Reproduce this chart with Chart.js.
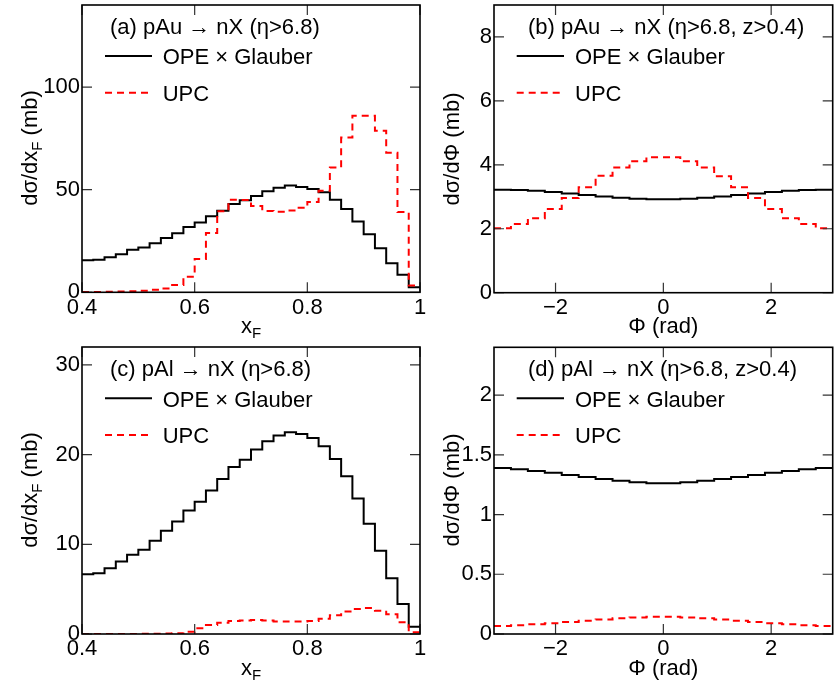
<!DOCTYPE html>
<html><head><meta charset="utf-8">
<script src="https://cdn.jsdelivr.net/npm/chart.js@4.4.1/dist/chart.umd.min.js"></script>
<style>
html,body{margin:0;padding:0;background:#fff;}
#wrap{position:relative;width:840px;height:686px;overflow:hidden;}
canvas{position:absolute;}
</style></head><body><div id="wrap">
<canvas id="ca" width="430" height="343" style="left:0;top:0"></canvas>
<canvas id="cb" width="420" height="343" style="left:420px;top:0"></canvas>
<canvas id="cc" width="430" height="343" style="left:0;top:343px"></canvas>
<canvas id="cd" width="420" height="343" style="left:420px;top:343px"></canvas>
</div>
<script>
// ---------- data ----------
const xfEdges = [0.40,0.42,0.44,0.46,0.48,0.50,0.52,0.54,0.56,0.58,0.60,0.62,0.64,0.66,0.68,0.70,0.72,0.74,0.76,0.78,0.80,0.82,0.84,0.86,0.88,0.90,0.92,0.94,0.96,0.98,1.00];
const phiEdges = [-3.1416,-2.8274,-2.5133,-2.1991,-1.8850,-1.5708,-1.2566,-0.9425,-0.6283,-0.3142,0,0.3142,0.6283,0.9425,1.2566,1.5708,1.8850,2.1991,2.5133,2.8274,3.1416];

const opeAuXF = [15.6,15.9,17.1,18.6,20.7,21.8,23.9,26.4,28.8,31.8,34.0,37.0,39.7,43.0,44.8,46.9,49.3,51.0,52.0,51.3,50.3,48.7,45.1,40.6,34.5,28.3,21.5,14.2,8.5,2.4];
const upcAuXF = [0.2,0.2,0.3,0.4,0.5,0.8,1.2,1.9,3.6,7.6,16.2,28.9,39.5,45.1,45.0,42.0,39.6,39.2,39.8,41.2,44.0,49.5,60.8,75.4,86.0,86.0,78.7,68.0,39.1,3.3];

const opeAuPhi = [3.22,3.21,3.19,3.15,3.10,3.06,3.01,2.97,2.94,2.92,2.92,2.94,2.97,3.01,3.06,3.10,3.15,3.19,3.21,3.22];
const upcAuPhi = [2.02,2.15,2.33,2.62,2.96,3.30,3.66,3.92,4.11,4.24,4.24,4.11,3.92,3.64,3.30,2.96,2.62,2.33,2.15,2.02];

const opeAlXF = [6.67,6.78,7.34,8.08,8.83,9.39,10.39,11.51,12.55,13.78,14.75,16.01,17.28,18.62,19.44,20.56,21.49,22.12,22.49,22.30,21.86,20.93,19.52,17.58,15.12,12.29,9.27,6.22,3.35,0.82];
const upcAlXF = [0,0,0,0,0.01,0.02,0.04,0.05,0.07,0.26,0.63,1.0,1.26,1.45,1.5,1.55,1.5,1.4,1.38,1.38,1.45,1.7,2.1,2.5,2.8,2.9,2.6,2.2,1.3,0.2];

const opeAlPhi = [1.39,1.38,1.365,1.35,1.33,1.315,1.298,1.283,1.27,1.262,1.262,1.27,1.283,1.298,1.315,1.33,1.35,1.365,1.38,1.39];
const upcAlPhi = [0.067,0.074,0.081,0.089,0.100,0.111,0.122,0.131,0.139,0.144,0.144,0.139,0.131,0.122,0.111,0.100,0.089,0.081,0.074,0.067];

const xfTicks = [0.4,0.6,0.8,1];
const phiTicks = [-2,0,2];
const yTicksA = [0,50,100];
const yTicksB = [0,2,4,6,8];
const yTicksC = [0,10,20,30];
const yTicksD = [0,0.5,1,1.5,2];

const seriesNames = ['OPE \u00d7 Glauber','UPC'];
const headers = ['(a) pAu \u2192 nX (\u03b7>6.8)','(b) pAu \u2192 nX (\u03b7>6.8, z>0.4)','(c) pAl \u2192 nX (\u03b7>6.8)','(d) pAl \u2192 nX (\u03b7>6.8, z>0.4)'];

// ---------- drawing ----------
const FONT = "'Liberation Sans', 'DejaVu Sans', Arial, sans-serif";
const FS = 22;
function f(sz){ return sz + 'px ' + FONT; }
function fmt(v){ return String(v).replace('-', '\u2212'); }
function toSteps(edges, vals){
  return edges.map((x,i)=>({x:x, y:vals[Math.min(i, vals.length-1)]}));
}
function drawParts(ctx, parts, x, y, center){
  let w = 0;
  parts.forEach(p=>{ ctx.font = f(p[1]); w += ctx.measureText(p[0]).width; });
  let cx = center ? x - w/2 : x;
  parts.forEach(p=>{ ctx.font = f(p[1]); ctx.fillText(p[0], cx, y + p[2]); cx += ctx.measureText(p[0]).width; });
}

const rootStyle = {
  id: 'rootStyle',
  afterDraw(chart, args, o){
    const ctx = chart.ctx, a = chart.chartArea;
    const xs = chart.scales.x, ys = chart.scales.y;
    ctx.save();
    ctx.strokeStyle = '#333'; ctx.lineWidth = 1.2;
    const L = 10;
    xs.ticks.forEach(t=>{
      const px = xs.getPixelForValue(t.value);
      ctx.beginPath();
      ctx.moveTo(px, a.bottom); ctx.lineTo(px, a.bottom - L);
      ctx.moveTo(px, a.top); ctx.lineTo(px, a.top + L);
      ctx.stroke();
    });
    ys.ticks.forEach(t=>{
      const py = ys.getPixelForValue(t.value);
      ctx.beginPath();
      ctx.moveTo(a.left, py); ctx.lineTo(a.left + L, py);
      ctx.moveTo(a.right, py); ctx.lineTo(a.right - L, py);
      ctx.stroke();
    });
    ctx.strokeStyle = '#000'; ctx.lineWidth = 1.6;
    ctx.strokeRect(a.left, a.top, a.right - a.left, a.bottom - a.top);
    ctx.fillStyle = '#000'; ctx.textAlign = 'left'; ctx.textBaseline = 'alphabetic';
    ctx.font = f(FS);
    ctx.fillText(o.header, o.hx, o.hy);
    const ds = chart.data.datasets;
    o.ly.forEach((ly, i)=>{
      ctx.beginPath();
      ctx.strokeStyle = ds[i].borderColor; ctx.lineWidth = 2;
      ctx.setLineDash(ds[i].borderDash || []);
      ctx.moveTo(o.lx0, ly); ctx.lineTo(o.lx1, ly); ctx.stroke();
      ctx.setLineDash([]);
      ctx.fillStyle = '#000'; ctx.font = f(FS);
      ctx.fillText(ds[i].label, o.tx, o.ty[i]);
    });
    ctx.fillStyle = '#000';
    drawParts(ctx, o.xTitle, o.xtx, o.xty, true);
    ctx.save();
    ctx.translate(o.ytx, o.yty);
    ctx.rotate(-Math.PI/2);
    drawParts(ctx, o.yTitle, 0, 0, true);
    ctx.restore();
    ctx.restore();
  }
};

function makeChart(id, s){
  return new Chart(document.getElementById(id), {
    type: 'line',
    data: { datasets: [
      {label: seriesNames[0], data: toSteps(s.edges, s.black), borderColor:'#000000', borderWidth:2,
       stepped:true, pointRadius:0, fill:false, order:1, borderJoinStyle:'miter'},
      {label: seriesNames[1], data: toSteps(s.edges, s.red), borderColor:'#ff0000', borderWidth:2,
       borderDash:[7,5], stepped:true, pointRadius:0, fill:false, order:0, borderJoinStyle:'miter'}
    ]},
    options: {
      responsive:false, maintainAspectRatio:false, animation:false, devicePixelRatio:1, events:[],
      layout:{autoPadding:false, padding:{top:s.padTop, right:s.padRight, left:0, bottom:0}},
      plugins:{legend:{display:false}, tooltip:{enabled:false}, rootStyle:s.deco},
      scales:{
        x:{type:'linear', min:s.xMin, max:s.xMax, offset:false,
           grid:{display:false, drawTicks:false}, border:{display:false},
           afterBuildTicks: sc=>{ sc.ticks = s.xTicks.map(v=>({value:v})); },
           afterFit: sc=>{ sc.height = s.xAxisH; sc.paddingLeft = 0; sc.paddingRight = 0; },
           ticks:{autoSkip:false, maxRotation:0, minRotation:0, padding:2, color:'#000',
                  font:{family:FONT, size:FS}, callback:v=>fmt(v)}},
        y:{type:'linear', min:s.yMin, max:s.yMax,
           grid:{display:false, drawTicks:false}, border:{display:false},
           afterBuildTicks: sc=>{ sc.ticks = s.yTicks.map(v=>({value:v})); },
           afterFit: sc=>{ sc.width = s.yAxisW; sc.paddingTop = 0; sc.paddingBottom = 0; },
           ticks:{autoSkip:false, padding:2, color:'#000', font:{family:FONT, size:FS}, callback:v=>fmt(v)}}
      }
    },
    plugins:[rootStyle]
  });
}

const xfTitle = [['x',FS,0],['F',15,5]];
const phiTitle = [['\u03a6 (rad)',FS,0]];
const yXfTitle = [['d\u03c3/dx',FS,0],['F',15,5],[' (mb)',FS,0]];
const yPhiTitle = [['d\u03c3/d\u03a6 (mb)',FS,0]];

makeChart('ca', {edges:xfEdges, black:opeAuXF, red:upcAuXF, xMin:0.4, xMax:1, yMin:0, yMax:140,
  xTicks:xfTicks, yTicks:yTicksA, yAxisW:82, xAxisH:50.7, padTop:5, padRight:10,
  deco:{header:headers[0], hx:110, hy:33.6, lx0:105, lx1:152, ly:[56,92.7], tx:162.7, ty:[64,100.7],
        xTitle:xfTitle, xtx:251, xty:333, yTitle:yXfTitle, ytx:37, yty:148}});
makeChart('cb', {edges:phiEdges, black:opeAuPhi, red:upcAuPhi, xMin:-Math.PI, xMax:Math.PI, yMin:0, yMax:9,
  xTicks:phiTicks, yTicks:yTicksB, yAxisW:74, xAxisH:50.3, padTop:5, padRight:7.3,
  deco:{header:headers[1], hx:108, hy:33.6, lx0:96.7, lx1:144, ly:[56,92.7], tx:155, ty:[64,100.7],
        xTitle:phiTitle, xtx:243.3, xty:333, yTitle:yPhiTitle, ytx:39, yty:149}});
makeChart('cc', {edges:xfEdges, black:opeAlXF, red:upcAlXF, xMin:0.4, xMax:1, yMin:0, yMax:32,
  xTicks:xfTicks, yTicks:yTicksC, yAxisW:82, xAxisH:52, padTop:4, padRight:10,
  deco:{header:headers[2], hx:110, hy:32.6, lx0:105, lx1:152, ly:[55.3,92], tx:162.7, ty:[63.7,100.3],
        xTitle:xfTitle, xtx:251, xty:332, yTitle:yXfTitle, ytx:37, yty:147}});
makeChart('cd', {edges:phiEdges, black:opeAlPhi, red:upcAlPhi, xMin:-Math.PI, xMax:Math.PI, yMin:0, yMax:2.4,
  xTicks:phiTicks, yTicks:yTicksD, yAxisW:74, xAxisH:52, padTop:4.3, padRight:7.3,
  deco:{header:headers[3], hx:108, hy:32.6, lx0:96.7, lx1:144, ly:[55.3,92], tx:155, ty:[63.7,100.3],
        xTitle:phiTitle, xtx:243.3, xty:332, yTitle:yPhiTitle, ytx:39, yty:147}});
</script>
</body></html>
